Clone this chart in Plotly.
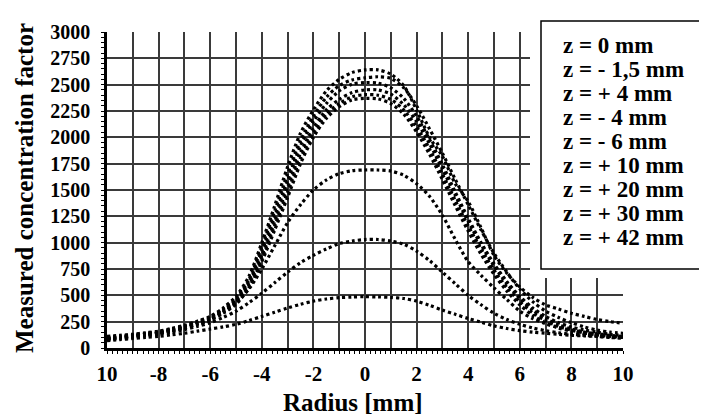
import plotly.graph_objects as go

# ---------------- data ----------------
radius = [-10, -9.5, -9, -8.5, -8, -7.5, -7, -6.5, -6, -5.5, -5, -4.5, -4, -3.5, -3,
          -2.5, -2, -1.5, -1, -0.5, 0, 0.5, 1, 1.5, 2, 2.5, 3, 3.5, 4, 4.5, 5,
          5.5, 6, 6.5, 7, 7.5, 8, 8.5, 9, 9.5, 10]

z_0 = [110, 120, 130, 145, 160, 185, 215, 255, 300, 380, 490, 680, 1000, 1350, 1720,
       2040, 2260, 2440, 2550, 2615, 2640, 2640, 2600, 2490, 2260, 2000, 1820, 1560, 1390, 1140, 880,
       710, 580, 480, 410, 370, 330, 300, 270, 250, 235]
z_m1_5 = [100, 115, 125, 140, 155, 180, 210, 250, 295, 370, 470, 650, 960, 1300, 1650,
          1970, 2200, 2380, 2490, 2545, 2565, 2575, 2560, 2470, 2300, 2080, 1850, 1600, 1360, 1120, 900,
          720, 560, 440, 350, 290, 240, 200, 170, 150, 140]
z_p4 = [95, 105, 120, 135, 150, 175, 205, 240, 285, 360, 455, 630, 920, 1250, 1590,
        1920, 2150, 2320, 2440, 2505, 2520, 2515, 2470, 2370, 2200, 1980, 1740, 1480, 1230, 1000, 800,
        630, 490, 380, 300, 240, 200, 170, 150, 130, 120]
z_m4 = [90, 100, 115, 130, 145, 170, 200, 235, 280, 350, 445, 610, 880, 1200, 1530,
        1850, 2090, 2260, 2360, 2425, 2450, 2450, 2410, 2310, 2150, 1940, 1700, 1450, 1200, 980, 780,
        610, 470, 360, 280, 220, 180, 150, 130, 115, 105]
z_m6 = [88, 98, 112, 128, 142, 165, 195, 230, 272, 340, 430, 590, 850, 1160, 1480,
        1800, 2040, 2220, 2320, 2385, 2405, 2400, 2360, 2260, 2100, 1890, 1650, 1400, 1160, 940, 740,
        575, 440, 335, 260, 205, 170, 142, 125, 110, 100]
z_p10 = [85, 95, 110, 125, 140, 160, 190, 225, 265, 330, 415, 570, 820, 1120, 1430,
         1750, 2000, 2180, 2290, 2355, 2370, 2365, 2320, 2220, 2050, 1840, 1600, 1350, 1110, 890, 700,
         540, 410, 310, 240, 190, 160, 135, 120, 105, 95]
z_p20 = [90, 100, 110, 125, 140, 165, 190, 225, 270, 340, 430, 560, 750, 970, 1190,
         1360, 1500, 1595, 1655, 1683, 1690, 1690, 1680, 1640, 1560, 1440, 1260, 1030, 820, 690, 570,
         460, 350, 280, 230, 195, 170, 150, 135, 120, 110]
z_p30 = [80, 90, 100, 115, 130, 150, 175, 205, 240, 290, 350, 430, 520, 620, 720,
         810, 880, 940, 990, 1015, 1030, 1030, 1015, 985, 920, 830, 720, 610, 500, 410, 330,
         270, 225, 190, 165, 145, 130, 120, 110, 100, 95]
z_p42 = [70, 80, 90, 100, 110, 125, 140, 160, 180, 200, 225, 260, 300, 340, 380,
         415, 445, 465, 478, 484, 487, 485, 480, 470, 445, 405, 360, 320, 280, 245, 210,
         185, 165, 150, 140, 130, 120, 115, 110, 105, 100]

series_values = [z_0, z_m1_5, z_p4, z_m4, z_m6, z_p10, z_p20, z_p30, z_p42]
legend_labels = ["z = 0 mm", "z = - 1,5 mm", "z = + 4 mm", "z = - 4 mm", "z = - 6 mm",
                 "z = + 10 mm", "z = + 20 mm", "z = + 30 mm", "z = + 42 mm"]

x_tick_vals = [-10, -9, -8, -7, -6, -5, -4, -3, -2, -1, 0, 1, 2, 3, 4, 5, 6, 7, 8, 9, 10]
x_tick_text = ["10", "", "-8", "", "-6", "", "-4", "", "-2", "", "0", "", "2", "", "4", "", "6", "", "8", "", "10"]
y_tick_vals = [0, 250, 500, 750, 1000, 1250, 1500, 1750, 2000, 2250, 2500, 2750, 3000]
y_tick_text = ["0", "250", "500", "750", "1000", "1250", "1500", "1750", "2000", "2250", "2500", "2750", "3000"]

x_title = "Radius [mm]"
y_title = "Measured concentration factor"

# ---------------- figure ----------------
FONT = "Liberation Serif"
OFF = 8                      # page body margin of the html page
PAGE_W, PAGE_H = 707, 419
W, H = PAGE_W - OFF, PAGE_H - OFF
# plot area in page pixels: x 107..623, y 32..348
L, T = 107 - OFF, 32 - OFF
R = W - (623 - OFF)
B = H - (348 - OFF)
PW, PH = W - L - R, H - T - B


def px_to_paper_x(px):          # px = page pixel
    return (px - OFF - L) / PW


def px_to_paper_y(py):
    return (H - B - (py - OFF)) / PH


fig = go.Figure()
for name, vals in zip(legend_labels, series_values):
    fig.add_trace(go.Scatter(
        x=radius, y=vals, name=name, mode="lines",
        line=dict(color="black", width=3.2, dash="3px,3px", shape="spline", smoothing=0.8),
        showlegend=False, hoverinfo="skip"))

grid_col = "#3a3a3a"
fig.update_layout(
    width=W, height=H,
    margin=dict(l=L, r=R, t=T, b=B, pad=0, autoexpand=False),
    paper_bgcolor="white", plot_bgcolor="white",
    font=dict(family=FONT, color="black"),
    xaxis=dict(
        range=[-10, 10], tickmode="array", tickvals=x_tick_vals, ticktext=x_tick_text,
        showgrid=True, gridcolor=grid_col, gridwidth=2, zeroline=False,
        showline=True, linecolor="black", linewidth=2.5,
        ticks="outside", ticklen=3, tickwidth=1.2, tickcolor="black",
        minor=dict(dtick=0.2, ticks="outside", ticklen=3, tickwidth=1, tickcolor="black", showgrid=False),
        tickfont=dict(family=FONT, size=21, color="black", weight="bold"),
        ticklabelstandoff=2, automargin=False,
    ),
    yaxis=dict(
        range=[0, 3000], tickmode="array", tickvals=y_tick_vals, ticktext=y_tick_text,
        showgrid=True, gridcolor=grid_col, gridwidth=2, zeroline=False,
        showline=True, linecolor="black", linewidth=2.5,
        ticks="outside", ticklen=3, tickwidth=1.2, tickcolor="black",
        minor=dict(dtick=50, ticks="outside", ticklen=3, tickwidth=1, tickcolor="black", showgrid=False),
        tickfont=dict(family=FONT, size=20, color="black", weight="bold"),
        ticklabelstandoff=7, automargin=False,
    ),
)

# white area behind the legend box, and the box itself
fig.add_shape(type="rect", xref="paper", yref="paper",
              x0=px_to_paper_x(530), x1=px_to_paper_x(720),
              y0=px_to_paper_y(278), y1=px_to_paper_y(-5),
              fillcolor="white", line=dict(width=0), layer="above")
fig.add_shape(type="rect", xref="paper", yref="paper",
              x0=px_to_paper_x(541), x1=px_to_paper_x(705),
              y0=px_to_paper_y(269), y1=px_to_paper_y(21),
              fillcolor="rgba(0,0,0,0)", line=dict(color="black", width=1.5), layer="above")

for i, lab in enumerate(legend_labels):
    fig.add_annotation(xref="paper", yref="paper",
                       x=px_to_paper_x(561), y=px_to_paper_y(45 + 24.1 * i),
                       xanchor="left", yanchor="middle", showarrow=False,
                       text=lab, font=dict(family=FONT, size=23, color="black", weight="bold"))

fig.add_annotation(xref="paper", yref="paper",
                   x=px_to_paper_x(353), y=px_to_paper_y(402),
                   xanchor="center", yanchor="middle", showarrow=False,
                   text=x_title, font=dict(family=FONT, size=25, color="black", weight="bold"))
fig.add_annotation(xref="paper", yref="paper",
                   x=px_to_paper_x(24), y=px_to_paper_y(188),
                   xanchor="center", yanchor="middle", showarrow=False, textangle=-90,
                   text=y_title, font=dict(family=FONT, size=25, color="black", weight="bold"))

fig.write_html("out.html")
